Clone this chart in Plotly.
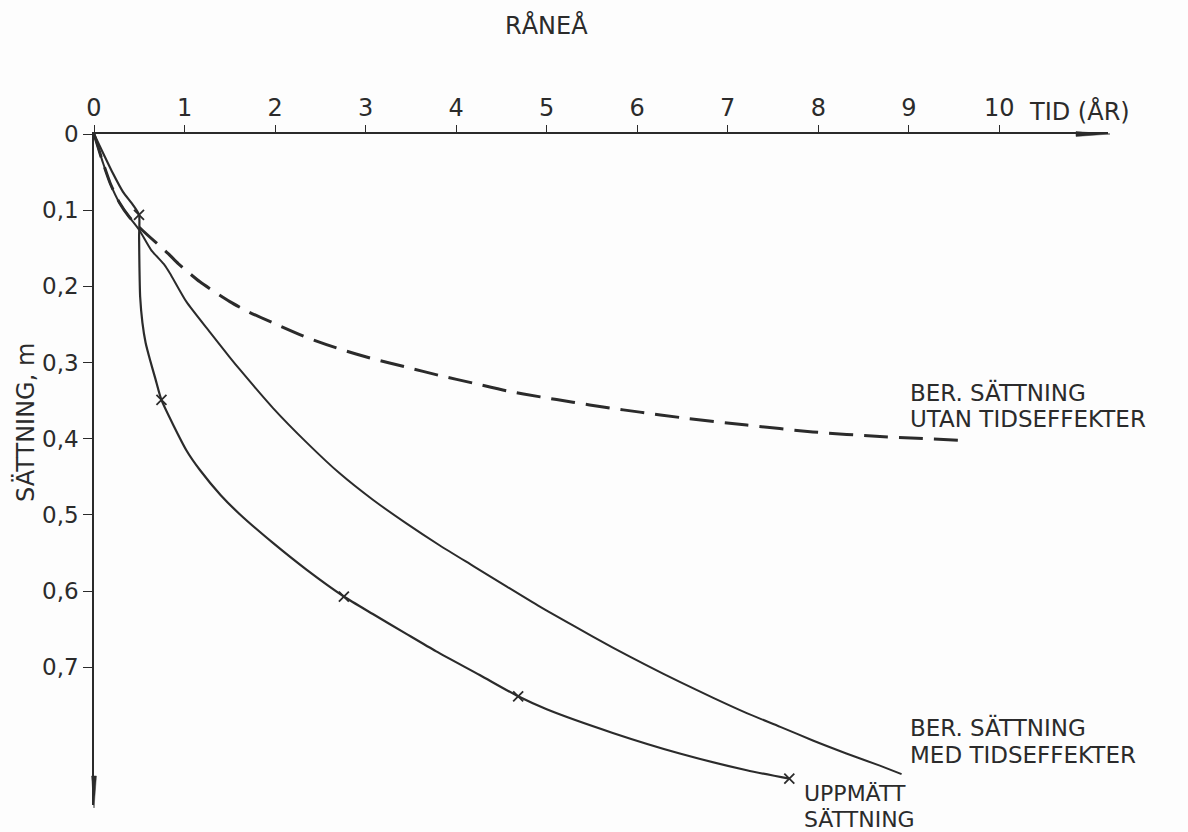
import plotly.graph_objects as go

# ---- data: time in years, settlement in metres ----
# calculated settlement without time effects (dashed)
t_utan = [0, 0.10, 0.18, 0.28, 0.39, 0.54, 0.82, 0.93, 1.17, 1.50, 1.70, 1.98, 2.35,
          2.71, 3.08, 3.45, 3.82, 4.19, 4.56, 4.93, 5.29, 5.66, 6.03, 6.47, 7.21,
          7.94, 8.68, 9.58]
s_utan = [0, 0.038, 0.065, 0.090, 0.109, 0.127, 0.157, 0.170, 0.194, 0.220, 0.233,
          0.248, 0.267, 0.282, 0.295, 0.306, 0.317, 0.327, 0.337, 0.345, 0.352,
          0.359, 0.365, 0.372, 0.382, 0.391, 0.397, 0.402]

# calculated settlement with time effects
t_med = [0, 0.10, 0.18, 0.28, 0.39, 0.50, 0.63, 0.78, 0.84, 1.02, 1.28, 1.50, 1.61,
         1.98, 2.35, 2.71, 3.08, 3.45, 3.82, 4.19, 4.56, 4.92, 5.29, 5.73, 6.10,
         6.47, 6.84, 7.21, 7.58, 7.94, 8.31, 8.68, 8.92]
s_med = [0, 0.038, 0.065, 0.090, 0.109, 0.126, 0.152, 0.172, 0.183, 0.220, 0.260,
         0.293, 0.309, 0.360, 0.405, 0.445, 0.480, 0.511, 0.540, 0.567, 0.594,
         0.620, 0.645, 0.674, 0.697, 0.719, 0.740, 0.760, 0.778, 0.796, 0.813,
         0.829, 0.840]

# measured settlement
t_uppm = [0, 0.21, 0.32, 0.43, 0.497, 0.498, 0.502, 0.51, 0.535, 0.57, 0.62, 0.68,
          0.745, 1.02, 1.17, 1.40, 1.61, 1.98, 2.35, 2.76, 3.08, 3.45, 3.78, 4.26,
          4.685, 5.00, 5.73, 6.47, 7.21, 7.68]
s_uppm = [0, 0.052, 0.076, 0.093, 0.106, 0.135, 0.175, 0.214, 0.248, 0.274, 0.297,
          0.322, 0.349, 0.415, 0.441, 0.474, 0.499, 0.537, 0.572, 0.607, 0.630,
          0.656, 0.679, 0.710, 0.738, 0.755, 0.786, 0.813, 0.835, 0.846]

# measurement points
t_points = [0.497, 0.745, 2.76, 4.685, 7.68]
s_points = [0.106, 0.349, 0.607, 0.738, 0.846]

x_ticks = list(range(0, 11))
x_ticktext = [str(v) for v in x_ticks]
y_ticks = [0, 0.1, 0.2, 0.3, 0.4, 0.5, 0.6, 0.7]
y_ticktext = ["0", "0,1", "0,2", "0,3", "0,4", "0,5", "0,6", "0,7"]

# ---- styling ----
INK = "#2b2b2b"
BG = "#fdfdfd"
FONT = "DejaVu Sans"
W, H = 1188, 832
ML, MR, MT, MB = 94, 80, 134, 27
X_MAX = 11.2
Y_MAX = 0.8806


def ypaper(s):
    return 1 - s / Y_MAX


def xpaper(px):
    return (px - ML) / (W - ML - MR)


def ypaper_px(py):
    return 1 - (py - MT) / (H - MT - MB)


fig = go.Figure()

fig.add_trace(go.Scatter(
    x=t_utan, y=s_utan, mode="lines",
    line=dict(color=INK, width=3, dash="24px,11px", shape="spline", smoothing=0.6),
    hoverinfo="skip", showlegend=False))

fig.add_trace(go.Scatter(
    x=t_med, y=s_med, mode="lines",
    line=dict(color=INK, width=2, shape="spline", smoothing=0.6),
    hoverinfo="skip", showlegend=False))

fig.add_trace(go.Scatter(
    x=t_uppm, y=s_uppm, mode="lines",
    line=dict(color=INK, width=2.2, shape="spline", smoothing=0.6),
    hoverinfo="skip", showlegend=False))

fig.add_trace(go.Scatter(
    x=t_points, y=s_points, mode="markers",
    marker=dict(symbol="x-thin", size=10, line=dict(color=INK, width=1.8)),
    hoverinfo="skip", showlegend=False))

# axis arrowheads
fig.add_shape(type="path", xref="paper", yref="paper",
              path=f"M {xpaper(1076)} {ypaper_px(131.6)} L {xpaper(1110)} {ypaper_px(134)} "
                   f"L {xpaper(1076)} {ypaper_px(136.4)} Z",
              fillcolor=INK, line=dict(color=INK, width=0.5))
fig.add_shape(type="path", xref="paper", yref="paper",
              path=f"M {xpaper(91.6)} {ypaper_px(776)} L {xpaper(94)} {ypaper_px(808)} "
                   f"L {xpaper(96.4)} {ypaper_px(776)} Z",
              fillcolor=INK, line=dict(color=INK, width=0.5))

txt = dict(family=FONT, size=24, color=INK)
txt_lbl = dict(family=FONT, size=23, color=INK)
txt_meas = dict(family=FONT, size=22, color=INK)
annotations = [
    dict(text="RÅNEÅ", x=5.0, xref="x", y=ypaper_px(25), yref="paper",
         xanchor="center", yanchor="middle", font=txt),
    dict(text="TID (ÅR)", x=(1027 - ML) / 90.5, xref="x", y=ypaper_px(112), yref="paper",
         xanchor="left", yanchor="middle", font=txt),
    dict(text="SÄTTNING, m", x=xpaper(25), xref="paper", y=ypaper_px(423), yref="paper",
         xanchor="center", yanchor="middle", textangle=-90, font=txt),
    dict(text="BER. SÄTTNING", x=8.99, xref="x", y=ypaper(0.3386), yref="paper",
         xanchor="left", yanchor="middle", font=txt_lbl),
    dict(text="UTAN TIDSEFFEKTER", x=8.99, xref="x", y=ypaper(0.374), yref="paper",
         xanchor="left", yanchor="middle", font=txt_lbl),
    dict(text="BER. SÄTTNING", x=8.99, xref="x", y=ypaper(0.7795), yref="paper",
         xanchor="left", yanchor="middle", font=txt_lbl),
    dict(text="MED TIDSEFFEKTER", x=8.99, xref="x", y=ypaper(0.815), yref="paper",
         xanchor="left", yanchor="middle", font=txt_lbl),
    dict(text="UPPMÄTT", x=7.82, xref="x", y=ypaper(0.8649), yref="paper",
         xanchor="left", yanchor="middle", font=txt_meas),
    dict(text="SÄTTNING", x=7.82, xref="x", y=ypaper(0.8990), yref="paper",
         xanchor="left", yanchor="middle", font=txt_meas),
]
for a in annotations:
    a["showarrow"] = False
fig.update_layout(annotations=annotations)

fig.update_layout(
    width=W, height=H,
    margin=dict(l=ML, r=MR, t=MT, b=MB, pad=0),
    paper_bgcolor=BG, plot_bgcolor=BG,
    font=dict(family=FONT, color=INK),
    xaxis=dict(range=[0, X_MAX], side="top", showline=True, linecolor=INK, linewidth=1.6,
               ticks="outside", ticklen=7, tickwidth=1.3, tickcolor=INK,
               tickvals=x_ticks, ticktext=x_ticktext,
               tickfont=dict(family=FONT, size=24, color=INK),
               showgrid=False, zeroline=False, fixedrange=True),
    yaxis=dict(range=[Y_MAX, 0], showline=True, linecolor=INK, linewidth=1.6,
               ticks="outside", ticklen=9, tickwidth=1.3, tickcolor=INK,
               tickvals=y_ticks, ticktext=y_ticktext,
               tickfont=dict(family=FONT, size=23, color=INK),
               showgrid=False, zeroline=False, fixedrange=True),
)

fig.write_html("out.html")
